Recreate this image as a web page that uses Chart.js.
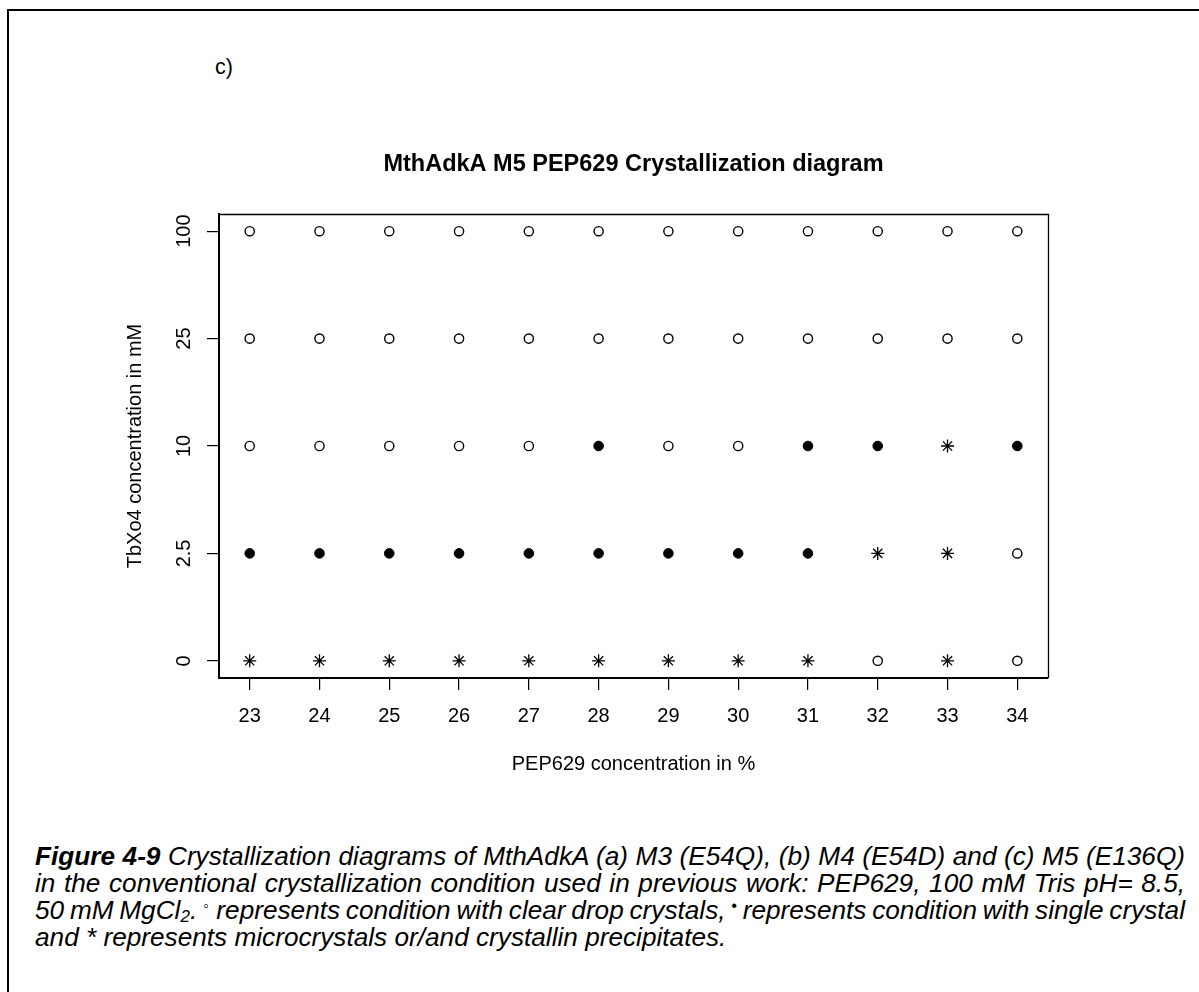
<!DOCTYPE html>
<html>
<head>
<meta charset="utf-8">
<script src="https://cdn.jsdelivr.net/npm/chart.js@4.4.1/dist/chart.umd.min.js"></script>
<style>
  html, body { margin: 0; padding: 0; background: #fff; width: 1199px; height: 992px; overflow: hidden; }
  body { position: relative; font-family: "Liberation Sans", Arial, sans-serif; color: #000; }
  #frame { position: absolute; left: 7px; top: 9px; width: 1300px; height: 1100px; border-top: 2px solid #000; border-left: 2px solid #000; }
  #wrap { position: absolute; left: 0; top: 0; width: 1199px; height: 820px; }
  #panel { position: absolute; left: 215px; top: 57px; font-size: 21.5px; line-height: 21px; }
  .cap { position: absolute; left: 35px; width: 1150px; font-size: 26.2px; line-height: 27px; font-style: italic;
         text-align: justify; text-align-last: justify; }
  .cap.last { text-align-last: left; }
  .cap b { font-weight: bold; }
  .sub { font-size: 17px; vertical-align: -3px; line-height: 0; }
  .sym { font-size: 16px; vertical-align: 8px; line-height: 0; }
</style>
</head>
<body>
<div id="frame"></div>
<div id="panel">c)</div>
<div id="wrap"><canvas id="c"></canvas></div>
<div class="cap" style="top:843px"><b>Figure 4-9</b> Crystallization diagrams of MthAdkA (a) M3 (E54Q), (b) M4 (E54D) and (c) M5 (E136Q)</div>
<div class="cap" style="top:870px">in the conventional crystallization condition used in previous work: PEP629, 100 mM Tris pH= 8.5,</div>
<div class="cap" style="top:897px; word-spacing:-3.5px">50 mM MgCl<span class="sub">2</span>. <span class="sym">◦</span> represents condition with clear drop crystals, <span class="sym">•</span> represents condition with single crystal</div>
<div class="cap last" style="top:924px">and * represents microcrystals or/and crystallin precipitates.</div>
<script>
// PEP629 concentration (%) along x
const pepConcentrations = [23, 24, 25, 26, 27, 28, 29, 30, 31, 32, 33, 34];
// TbXo4 concentration levels (mM), plotted as evenly spaced categories
const tbLevels = ['0', '2.5', '10', '25', '100'];
// Outcome for each PEP629 concentration at each TbXo4 level:
// 'o' = clear drop, 'x' = single crystal, '*' = microcrystals / crystalline precipitate
const outcomeTb0   = ['*', '*', '*', '*', '*', '*', '*', '*', '*', 'o', '*', 'o'];
const outcomeTb2_5 = ['x', 'x', 'x', 'x', 'x', 'x', 'x', 'x', 'x', '*', '*', 'o'];
const outcomeTb10  = ['o', 'o', 'o', 'o', 'o', 'x', 'o', 'o', 'x', 'x', '*', 'x'];
const outcomeTb25  = ['o', 'o', 'o', 'o', 'o', 'o', 'o', 'o', 'o', 'o', 'o', 'o'];
const outcomeTb100 = ['o', 'o', 'o', 'o', 'o', 'o', 'o', 'o', 'o', 'o', 'o', 'o'];

const chartTitle = 'MthAdkA M5 PEP629 Crystallization diagram';

const outcomeRows = [outcomeTb0, outcomeTb2_5, outcomeTb10, outcomeTb25, outcomeTb100];

function pointsFor(code) {
  const pts = [];
  outcomeRows.forEach((row, level) => {
    row.forEach((c, i) => {
      if (c === code) pts.push({ x: pepConcentrations[i], y: level + 1 });
    });
  });
  return pts;
}

const FONT = '"Liberation Sans", Arial, sans-serif';

// Box around the plot region (top and right sides) and the title centred over the plot region
const frameBox = {
  id: 'frameBox',
  afterDatasetsDraw(chart) {
    const { ctx, chartArea: a } = chart;
    ctx.save();
    ctx.strokeStyle = '#000';
    ctx.lineWidth = 1.3;
    ctx.beginPath();
    ctx.moveTo(a.left, a.top + 0.5);
    ctx.lineTo(a.right + 0.5, a.top + 0.5);
    ctx.lineTo(a.right + 0.5, a.bottom);
    ctx.stroke();
    ctx.restore();
  },
  afterDraw(chart) {
    const { ctx, chartArea: a } = chart;
    ctx.save();
    ctx.fillStyle = '#000';
    ctx.font = 'bold 23.5px ' + FONT;
    ctx.textAlign = 'center';
    ctx.textBaseline = 'middle';
    ctx.fillText(chartTitle, (a.left + a.right) / 2, a.top - 49);
    ctx.restore();
  }
};

const xMin = pepConcentrations[0], xMax = pepConcentrations[pepConcentrations.length - 1];
const xPad = (xMax - xMin) * 0.04;
const yPad = (tbLevels.length - 1) * 0.04;

new Chart(document.getElementById('c'), {
  type: 'scatter',
  data: {
    datasets: [
      { label: 'clear drop', data: pointsFor('o'), pointStyle: 'circle', pointRadius: 4.6,
        borderColor: '#000', backgroundColor: '#fff', borderWidth: 1.4 },
      { label: 'single crystal', data: pointsFor('x'), pointStyle: 'circle', pointRadius: 4.8,
        borderColor: '#000', backgroundColor: '#000', borderWidth: 1 },
      { label: 'microcrystals', data: pointsFor('*'), pointStyle: 'star', pointRadius: 6.5,
        borderColor: '#000', backgroundColor: '#000', borderWidth: 1.3 }
    ]
  },
  options: {
    responsive: true,
    maintainAspectRatio: false,
    animation: false,
    events: [],
    layout: { padding: { left: 100, right: 151, top: 214, bottom: 32 } },
    plugins: {
      legend: { display: false },
      tooltip: { enabled: false },
      title: { display: false }
    },
    scales: {
      x: {
        type: 'linear',
        min: xMin - xPad,
        max: xMax + xPad,
        afterFit(scale) { scale.height = 110; },
        afterBuildTicks(scale) { scale.ticks = pepConcentrations.map(v => ({ value: v })); },
        ticks: { color: '#000', font: { family: FONT, size: 20 }, padding: 14,
                 autoSkip: false, maxRotation: 0, minRotation: 0,
                 callback: v => String(v) },
        grid: { display: true, drawOnChartArea: false, drawTicks: true, tickLength: 12, color: '#000', lineWidth: 1.2 },
        border: { display: true, color: '#000', width: 2 },
        title: { display: true, text: 'PEP629 concentration in %', color: '#000',
                 font: { family: FONT, size: 20 }, padding: { top: 0, bottom: 12 } }
      },
      y: {
        type: 'linear',
        min: 1 - yPad,
        max: tbLevels.length + yPad,
        afterFit(scale) { scale.width = 119; },
        afterBuildTicks(scale) { scale.ticks = tbLevels.map((_, i) => ({ value: i + 1 })); },
        ticks: { color: '#000', font: { family: FONT, size: 20 }, padding: 6,
                 autoSkip: false, minRotation: 90, maxRotation: 90, crossAlign: 'center',
                 callback: v => tbLevels[Math.round(v) - 1] },
        grid: { display: true, drawOnChartArea: false, drawTicks: true, tickLength: 12, color: '#000', lineWidth: 1.2 },
        border: { display: true, color: '#000', width: 2 },
        title: { display: true, text: 'TbXo4 concentration in mM', color: '#000',
                 font: { family: FONT, size: 20 }, padding: { top: 23, bottom: 0 } }
      }
    }
  },
  plugins: [frameBox]
});
</script>
</body>
</html>
